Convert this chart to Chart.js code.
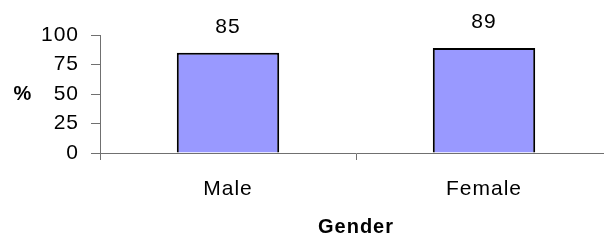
<!DOCTYPE html>
<html>
<head>
<meta charset="utf-8">
<script src="https://cdn.jsdelivr.net/npm/chart.js@4/dist/chart.umd.min.js"></script>
<style>
  html, body { margin: 0; padding: 0; background: #fff; overflow: hidden; }
  #wrap { width: 604px; height: 247px; overflow: hidden; }
</style>
</head>
<body>
<div id="wrap"><canvas id="chart" width="620" height="247"></canvas></div>
<script>
const categories = ['Male', 'Female'];
const percentValues = [85, 89];
const yTicks = [0, 25, 50, 75, 100];

const FONT = "'Liberation Sans', Arial, sans-serif";
const SPACING = '1px';

// old Excel style text is a bit spread out
const spacingPlugin = {
    id: 'spacing',
    beforeDraw: (chart) => { chart.ctx.letterSpacing = SPACING; },
    beforeLayout: (chart) => { chart.ctx.letterSpacing = SPACING; }
};

// value labels over the bars and the flat "%" axis title
const labelsPlugin = {
    id: 'barLabels',
    afterDraw: (chart) => {
        const ctx = chart.ctx;
        ctx.save();
        ctx.letterSpacing = SPACING;
        ctx.fillStyle = '#000';
        ctx.textAlign = 'center';
        ctx.textBaseline = 'alphabetic';
        ctx.font = '21px ' + FONT;
        chart.getDatasetMeta(0).data.forEach((bar, i) => {
            ctx.fillText(String(percentValues[i]), bar.x, bar.y - 20);
        });
        ctx.font = 'bold 20px ' + FONT;
        const area = chart.chartArea;
        ctx.fillText('%', 23, (area.top + area.bottom) / 2 + 6);
        ctx.restore();
    }
};

new Chart(document.getElementById('chart'), {
    type: 'bar',
    data: {
        labels: categories,
        datasets: [{
            data: percentValues,
            backgroundColor: '#9999ff',
            borderColor: '#000',
            borderWidth: 2,
            categoryPercentage: 1,
            barPercentage: 0.4
        }]
    },
    options: {
        responsive: false,
        animation: false,
        layout: { padding: { top: 35, right: 8, left: 0, bottom: 0 } },
        plugins: {
            legend: { display: false },
            tooltip: { enabled: false }
        },
        scales: {
            x: {
                offset: true,
                grid: {
                    offset: true,
                    drawOnChartArea: false,
                    tickLength: 7,
                    color: '#707070'
                },
                border: { color: '#707070', width: 1 },
                ticks: {
                    color: '#000',
                    padding: 17,
                    font: { family: FONT, size: 21 }
                },
                title: {
                    display: true,
                    text: 'Gender',
                    color: '#000',
                    font: { family: FONT, size: 20, weight: 'bold' },
                    padding: { top: 0, bottom: 8 }
                },
                afterFit: (scale) => { scale.height = 94; }
            },
            y: {
                min: 0,
                max: 100,
                afterBuildTicks: (scale) => {
                    scale.ticks = yTicks.map(v => ({ value: v }));
                },
                grid: {
                    drawOnChartArea: false,
                    tickLength: 9,
                    color: '#707070'
                },
                border: { color: '#707070', width: 1 },
                ticks: {
                    color: '#000',
                    padding: 12,
                    font: { family: FONT, size: 21 }
                },
                afterFit: (scale) => { scale.width = 100; }
            }
        }
    },
    plugins: [spacingPlugin, labelsPlugin]
});
</script>
</body>
</html>
